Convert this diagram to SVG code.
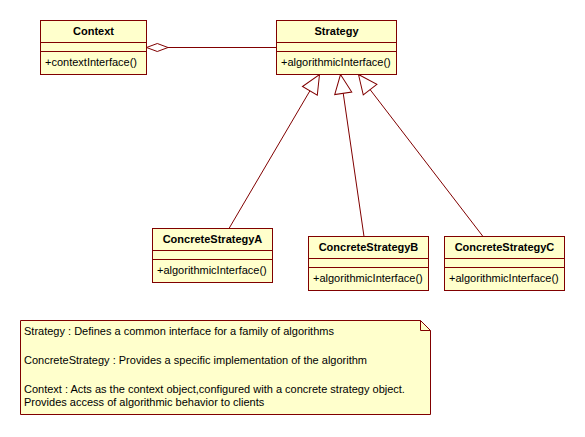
<svg xmlns="http://www.w3.org/2000/svg" width="585" height="437" viewBox="0 0 585 437">
<style>
  .box { fill: #FFFFCC; stroke: #800000; stroke-width: 1; }
  .div { stroke: #800000; stroke-width: 1; fill: none; }
  .title { font-family: "Liberation Sans", Arial, sans-serif; font-size: 11px; font-weight: bold; fill: #000; text-anchor: middle; }
  .member { font-family: "Liberation Sans", Arial, sans-serif; font-size: 11px; fill: #000; }
  .note { font-family: "Liberation Sans", Arial, sans-serif; font-size: 11px; fill: #000; }
  .conn { stroke: #800000; stroke-width: 1; fill: none; }
</style>
<defs>
  <marker id="gen" markerUnits="userSpaceOnUse" markerWidth="24" markerHeight="24" refX="0" refY="0" orient="auto" overflow="visible">
    <path d="M0,0 L19,-8.6 L19,8.6 Z" fill="#FFFFFF" stroke="#800000" stroke-width="1"/>
  </marker>
</defs>
<rect width="585" height="437" fill="#FFFFFF"/>

<g id="connectors">
  <line class="conn" x1="168" y1="47.5" x2="276.5" y2="47.5"/>
  <polygon class="conn" points="146.5,47.5 157.3,43.5 168,47.5 157.3,51.5" fill="#FFFFFF"/>
  <line class="conn" x1="319.5" y1="74.5" x2="229" y2="228.5" marker-start="url(#gen)"/>
  <line class="conn" x1="340.5" y1="74.5" x2="364" y2="236.5" marker-start="url(#gen)"/>
  <line class="conn" x1="358.5" y1="74.5" x2="483" y2="236.5" marker-start="url(#gen)"/>
</g>

<g id="context">
  <rect class="box" x="40.5" y="20.5" width="106" height="54"/>
  <line class="div" x1="40.5" y1="42.5" x2="146.5" y2="42.5"/>
  <line class="div" x1="40.5" y1="51.5" x2="146.5" y2="51.5"/>
  <text class="title" x="93.5" y="34.5">Context</text>
  <text class="member" x="45" y="66">+contextInterface()</text>
</g>

<g id="strategy">
  <rect class="box" x="276.5" y="20.5" width="120" height="54"/>
  <line class="div" x1="276.5" y1="42.5" x2="396.5" y2="42.5"/>
  <line class="div" x1="276.5" y1="51.5" x2="396.5" y2="51.5"/>
  <text class="title" x="336.5" y="34.5">Strategy</text>
  <text class="member" x="281" y="66">+algorithmicInterface()</text>
</g>

<g id="concreteA">
  <rect class="box" x="152.5" y="228.5" width="120" height="54"/>
  <line class="div" x1="152.5" y1="250.5" x2="272.5" y2="250.5"/>
  <line class="div" x1="152.5" y1="259.5" x2="272.5" y2="259.5"/>
  <text class="title" x="212.5" y="242.5">ConcreteStrategyA</text>
  <text class="member" x="157" y="274">+algorithmicInterface()</text>
</g>

<g id="concreteB">
  <rect class="box" x="308.5" y="236.5" width="120" height="54"/>
  <line class="div" x1="308.5" y1="258.5" x2="428.5" y2="258.5"/>
  <line class="div" x1="308.5" y1="267.5" x2="428.5" y2="267.5"/>
  <text class="title" x="368.5" y="250.5">ConcreteStrategyB</text>
  <text class="member" x="313" y="282">+algorithmicInterface()</text>
</g>

<g id="concreteC">
  <rect class="box" x="444.5" y="236.5" width="120" height="54"/>
  <line class="div" x1="444.5" y1="258.5" x2="564.5" y2="258.5"/>
  <line class="div" x1="444.5" y1="267.5" x2="564.5" y2="267.5"/>
  <text class="title" x="504.5" y="250.5">ConcreteStrategyC</text>
  <text class="member" x="449" y="282">+algorithmicInterface()</text>
</g>

<g id="note">
  <polygon class="box" points="20.5,320.5 420.5,320.5 430.5,330.5 430.5,414.5 20.5,414.5"/>
  <polyline class="div" points="420.5,320.5 420.5,330.5 430.5,330.5"/>
  <text class="note" x="24" y="335">Strategy : Defines a common interface for a family of algorithms</text>
  <text class="note" x="24" y="363.5">ConcreteStrategy : Provides a specific implementation of the algorithm</text>
  <text class="note" x="24" y="392.5">Context : Acts as the context object,configured with a concrete strategy object.</text>
  <text class="note" x="24" y="405.5">Provides access of algorithmic behavior to clients</text>
</g>
</svg>
